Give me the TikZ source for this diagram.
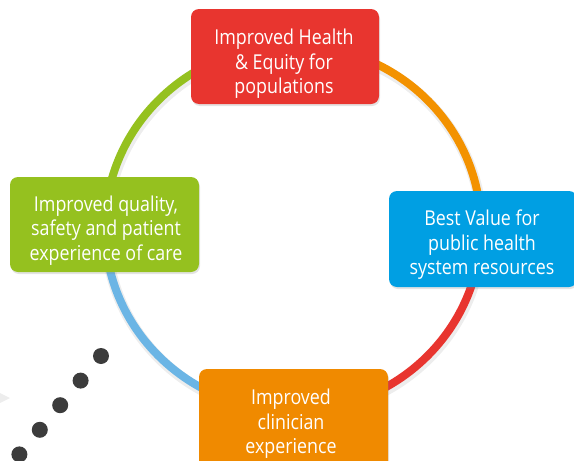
\documentclass[tikz,border=0pt]{standalone}
\usepackage{fontspec}
\setmainfont{Open Sans}[FakeStretch=0.87]
\usetikzlibrary{shadows}
\definecolor{boxred}{HTML}{E8352F}
\definecolor{boxorange}{HTML}{F08A00}
\definecolor{boxblue}{HTML}{009FE3}
\definecolor{boxgreen}{HTML}{95C11F}
\definecolor{ringblue}{HTML}{6BB5E5}
\definecolor{ringred}{HTML}{E8352F}
\definecolor{ringorange}{HTML}{F39200}
\definecolor{ringgreen}{HTML}{95C11F}
\definecolor{dotgray}{HTML}{3C3C3C}
\begin{document}
\begin{tikzpicture}[x=1pt,y=-1pt,
  goalbox/.style={rounded corners=8pt, inner sep=0pt,
    drop shadow={opacity=0.22, shadow xshift=1pt, shadow yshift=-2pt}},
  goaltext/.style={text=white, align=center, inner sep=0pt,
    font=\fontsize{20.5}{24.5}\selectfont},
  ringseg/.style={line width=8pt},
  ringshade/.style={line width=11pt, draw=black, opacity=0.07},
  dot/.style={circle, fill=dotgray, minimum size=16pt, inner sep=0pt}]
\useasboundingbox (0,0) rectangle (574,461);

% centre of the outcome ring
\coordinate (c) at (293,228);

% soft shadow under the ring
\draw[ringshade] ([shift={(1,2.5)}]c) ellipse[x radius=188, y radius=183];

% four coloured quarters of the ring
\draw[ringseg, ringorange] (c) ++(270:188 and 183)
  arc[start angle=270, end angle=360, x radius=188, y radius=183];
\draw[ringseg, ringred] (c) ++(0:188 and 183)
  arc[start angle=0, end angle=90, x radius=188, y radius=183];
\draw[ringseg, ringblue] (c) ++(90:188 and 183)
  arc[start angle=90, end angle=180, x radius=188, y radius=183];
\draw[ringseg, ringgreen] (c) ++(180:188 and 183)
  arc[start angle=180, end angle=270, x radius=188, y radius=183];

% outcome boxes
\node[goalbox, fill=boxred, minimum width=188, minimum height=95] (health) at (285,56.5) {};
\node[goalbox, fill=boxblue, minimum width=188, minimum height=96] (value) at (483,239) {};
\node[goalbox, fill=boxgreen, minimum width=189, minimum height=95] (quality) at (104.5,224.5) {};
\node[goalbox, fill=boxorange, minimum width=189, minimum height=106] (clinician) at (293.5,422) {};

% box labels
\node[goaltext] (health-txt) at (284,64) {Improved Health\\\& Equity for\\populations};
\node[goaltext] (value-txt) at (482,245) {Best Value for\\public health\\system resources};
\node[goaltext] (quality-txt) at (106,230.5) {Improved quality,\\safety and patient\\experience of care};
\node[goaltext] (clinician-txt) at (291,424) {Improved\\clinician\\experience};

% faint pointer at the left edge
\fill[black!7] (0,393) -- (10,398) -- (0,403) -- cycle;

% dotted trail in the lower left
\node[dot] (d1) at (101,356) {};
\node[dot] (d2) at (80.6,380.6) {};
\node[dot] (d3) at (60.2,405.2) {};
\node[dot] (d4) at (39.8,429.8) {};
\node[dot] (d5) at (19.4,454.4) {};
\end{tikzpicture}
\end{document}
